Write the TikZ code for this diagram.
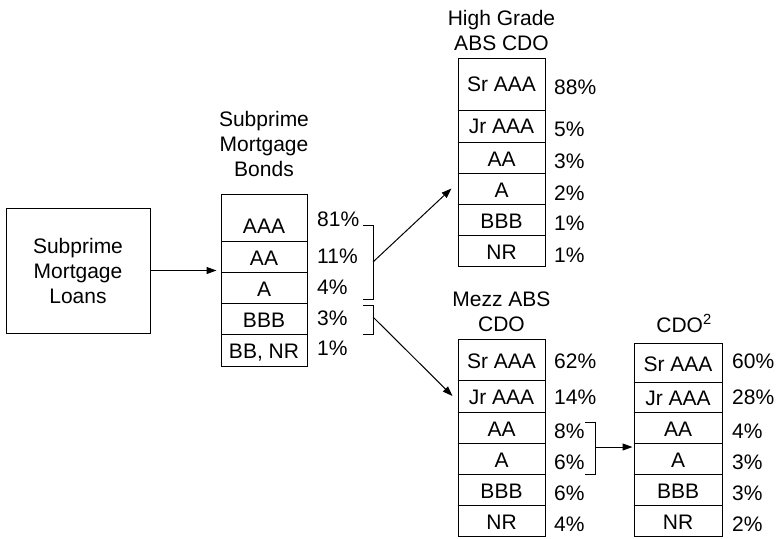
\documentclass[tikz,border=0pt]{standalone}
\usepackage{fontspec}
\setmainfont{Liberation Sans}
\usetikzlibrary{arrows.meta,calc}
\begin{document}
\begin{tikzpicture}[x=1pt,y=-1pt,
  every node/.style={font=\fontsize{21}{25}\selectfont, inner sep=0pt},
  cell/.style={draw, line width=1pt, text height=17.5pt, text depth=0pt},
  pct/.style={anchor=west, text height=17.5pt, text depth=0pt},
  title/.style={align=center, anchor=base},
  ln/.style={line width=1pt},
  arr/.style={line width=1pt, -{Triangle[length=10pt,width=7pt]}}
]
\useasboundingbox (0,0) rectangle (778,538);

% Loans
\node[draw, line width=1pt, minimum width=144pt, minimum height=125pt, align=center] (loans) at (78,270.5) {Subprime\\Mortgage\\Loans};

% Subprime Mortgage Bonds
\node[title] (tb) at (264,176) {Subprime\\Mortgage\\Bonds};
\tikzset{bw/.style={cell, minimum width=86pt, minimum height=31pt}}
\node[bw, minimum height=47pt, text height=31pt] (bAAA) at (264,217.5) {AAA};
\node[bw] (bAA) at (264,256.5) {AA};
\node[bw] (bA) at (264,287.5) {A};
\node[bw] (bBBB) at (264,318.5) {BBB};
\node[bw, minimum height=32pt] (bBB) at (264,350) {BB, NR};
\node[pct] (p1) at (317,217.5) {81\%};
\node[pct] (p2) at (317,254.5) {11\%};
\node[pct] (p3) at (317,285.5) {4\%};
\node[pct] (p4) at (317,317) {3\%};
\node[pct] (p5) at (317,347) {1\%};

\draw[arr] (loans.east) -- ($(loans.east -| bA.west)+(-4,0)$);

% brackets
\coordinate (k1a) at (363,225);
\coordinate (k1b) at (373,225);
\coordinate (k1c) at (373,299);
\coordinate (k1d) at (363,299);
\coordinate (k1m) at (373,262);
\draw[ln] (k1a) -- (k1b) -- (k1c) -- (k1d);
\coordinate (k2a) at (363,305);
\coordinate (k2b) at (373,305);
\coordinate (k2c) at (373,334);
\coordinate (k2d) at (363,334);
\coordinate (k2m) at (373,317);
\draw[ln] (k2a) -- (k2b) -- (k2c) -- (k2d);

% High Grade ABS CDO
\node[title] (th) at (501.5,50) {High Grade\\ABS CDO};
\tikzset{hw/.style={cell, minimum width=87pt, minimum height=31pt}}
\node[hw, minimum height=52pt, text height=15pt] (hSr) at (501.5,84) {Sr AAA};
\node[hw, minimum height=32pt, text height=15pt] (hJr) at (501.5,126) {Jr AAA};
\node[hw] (hAA) at (501.5,157.5) {AA};
\node[hw] (hA) at (501.5,188.5) {A};
\node[hw] (hBBB) at (501.5,219.5) {BBB};
\node[hw] (hNR) at (501.5,250.5) {NR};
\node[pct] (q1) at (554,86) {88\%};
\node[pct] (q2) at (554,127.5) {5\%};
\node[pct] (q3) at (554,160) {3\%};
\node[pct] (q4) at (554,191.5) {2\%};
\node[pct] (q5) at (554,222) {1\%};
\node[pct] (q6) at (554,254) {1\%};

% Mezz ABS CDO
\node[title] (tm) at (501.5,331) {Mezz ABS\\CDO};
\node[hw, minimum height=41pt] (mSr) at (501.5,359.5) {Sr AAA};
\node[hw, minimum height=32pt] (mJr) at (501.5,396) {Jr AAA};
\node[hw] (mAA) at (501.5,427.5) {AA};
\node[hw] (mA) at (501.5,458.5) {A};
\node[hw] (mBBB) at (501.5,489.5) {BBB};
\node[hw] (mNR) at (501.5,520.5) {NR};
\node[pct] (r1) at (554,360) {62\%};
\node[pct] (r2) at (554,396) {14\%};
\node[pct] (r3) at (554,430) {8\%};
\node[pct] (r4) at (554,461) {6\%};
\node[pct] (r5) at (554,492) {6\%};
\node[pct] (r6) at (554,523) {4\%};

\draw[arr] (k1m) -- ($(hA.west)+(-6,0)$);
\draw[arr] (k2m) -- ($(mJr.west)+(-5,0)$);

\coordinate (k3a) at (585,422);
\coordinate (k3b) at (595,422);
\coordinate (k3c) at (595,474);
\coordinate (k3d) at (585,474);
\coordinate (k3m) at (595,447);
\draw[ln] (k3a) -- (k3b) -- (k3c) -- (k3d);

% CDO^2
\node[title] (tc) at (684,332) {CDO\textsuperscript{2}};
\tikzset{cw/.style={cell, minimum width=88pt, minimum height=31pt}}
\node[cw, minimum height=39pt] (cSr) at (678,362.5) {Sr AAA};
\node[cw, minimum height=30pt] (cJr) at (678,397) {Jr AAA};
\node[cw] (cAA) at (678,427.5) {AA};
\node[cw] (cA) at (678,458.5) {A};
\node[cw] (cBBB) at (678,489.5) {BBB};
\node[cw] (cNR) at (678,520.5) {NR};
\node[pct] (s1) at (732,360) {60\%};
\node[pct] (s2) at (732,396) {28\%};
\node[pct] (s3) at (732,430) {4\%};
\node[pct] (s4) at (732,461) {3\%};
\node[pct] (s5) at (732,492) {3\%};
\node[pct] (s6) at (732,523) {2\%};

\draw[arr] (k3m) -- ($(k3m -| cA.west)+(-1,0)$);
\end{tikzpicture}
\end{document}
